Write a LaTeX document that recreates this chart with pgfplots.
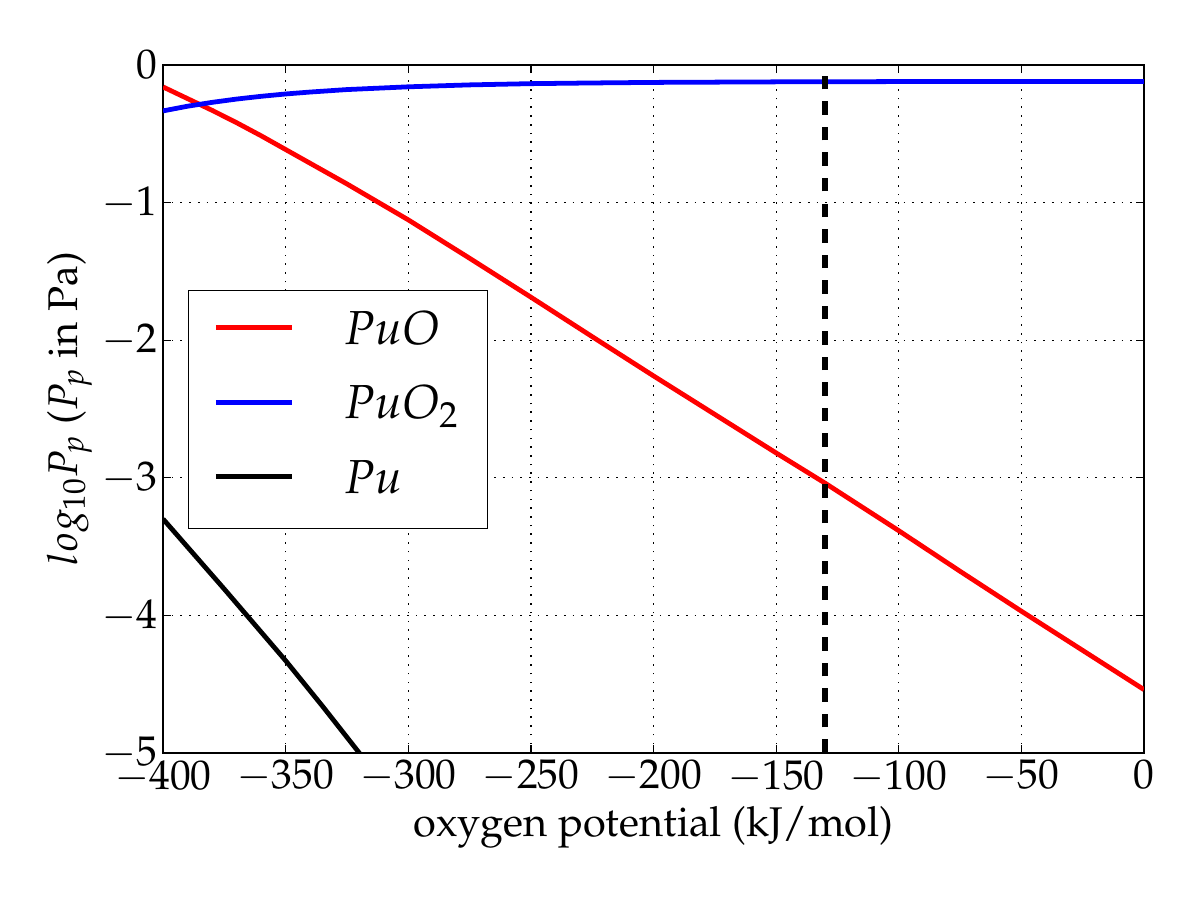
\documentclass[border=0pt]{standalone}
\usepackage[T1]{fontenc}
\usepackage{mathpazo}
\usepackage{pgfplots}
\pgfplotsset{compat=1.18}

\definecolor{puo}{rgb}{1,0,0}
\definecolor{puotwo}{rgb}{0,0,1}

\begin{document}
\begin{tikzpicture}[font=\fontsize{20}{24}\selectfont]
% page frame around the axis
\path[use as bounding box] (-78.6pt,-70.8pt) rectangle (499.8pt,362.9pt);
\begin{axis}[
  at={(0pt,0pt)}, anchor=south west,
  scale only axis,
  width=472.8pt, height=331.6pt,
  xmin=-400, xmax=0, ymin=-5, ymax=0,
  xtick={-400,-350,...,0},
  ytick={-5,-4,...,0},
  tick align=inside,
  major tick length=4pt,
  tick style={black, line width=0.6pt},
  axis line style={line width=0.8pt},
  grid=major,
  major grid style={black, line width=0.6pt, dash pattern=on 0.8pt off 3.4pt},
  yticklabel style={inner xsep=2.5pt},
  xlabel={oxygen potential (kJ/mol)},
  ylabel={$log_{10}P_p$ ($P_p$ in Pa)},
  xlabel style={at={(axis description cs:0.5,-0.1221)}, anchor=base},
  ylabel style={at={(axis description cs:-0.0876,0.5)}, anchor=base, rotate=0},
  legend cell align=left,
  legend image code/.code={
    \path (0pt,-11pt) (0pt,11pt);
    \draw[#1] (0pt,3.5pt) -- (36.6pt,3.5pt);},
  legend style={
    at={(0.0254,0.673)}, anchor=north west,
    draw=black, line width=0.6pt, fill=white,
    inner xsep=12pt, inner ysep=8.3pt,
    font=\fontsize{23}{27}\selectfont,
    column sep=22pt, row sep=10pt,
    nodes={inner sep=2pt, text height=15.5pt, text depth=6.5pt},
  },
]
% PuO partial pressure
\addplot[puo, line width=2.3pt] coordinates {
  (-400,-0.160) (-390,-0.245) (-380,-0.330) (-370,-0.420) (-360,-0.515)
  (-350,-0.615) (-325,-0.865) (-300,-1.126) (-275,-1.405) (-250,-1.688)
  (-225,-1.975) (-200,-2.260) (-175,-2.540) (-150,-2.820) (-130,-3.040)
  (-100,-3.385) (-75,-3.680) (-50,-3.970) (-25,-4.255) (0,-4.540)
};
\addlegendentry{$PuO$}
% PuO2 partial pressure
\addplot[puotwo, line width=2.3pt] coordinates {
  (-400,-0.334) (-390,-0.300) (-380,-0.272) (-370,-0.248) (-360,-0.228)
  (-350,-0.211) (-340,-0.197) (-325,-0.179) (-300,-0.159) (-275,-0.145)
  (-250,-0.136) (-225,-0.131) (-200,-0.127) (-150,-0.123) (-100,-0.121)
  (-50,-0.120) (0,-0.120)
};
\addlegendentry{$PuO_2$}
% Pu partial pressure
\addplot[black, line width=2.3pt] coordinates {
  (-400,-3.30) (-375,-3.81) (-350,-4.33) (-335,-4.66) (-320,-5.00) (-310,-5.23)
};
\addlegendentry{$Pu$}
% reference oxygen potential
\addplot[black, line width=3pt, dash pattern=on 6.5pt off 5.8pt, forget plot]
  coordinates {(-130,-5) (-130,0)};
\end{axis}
\end{tikzpicture}
\end{document}
